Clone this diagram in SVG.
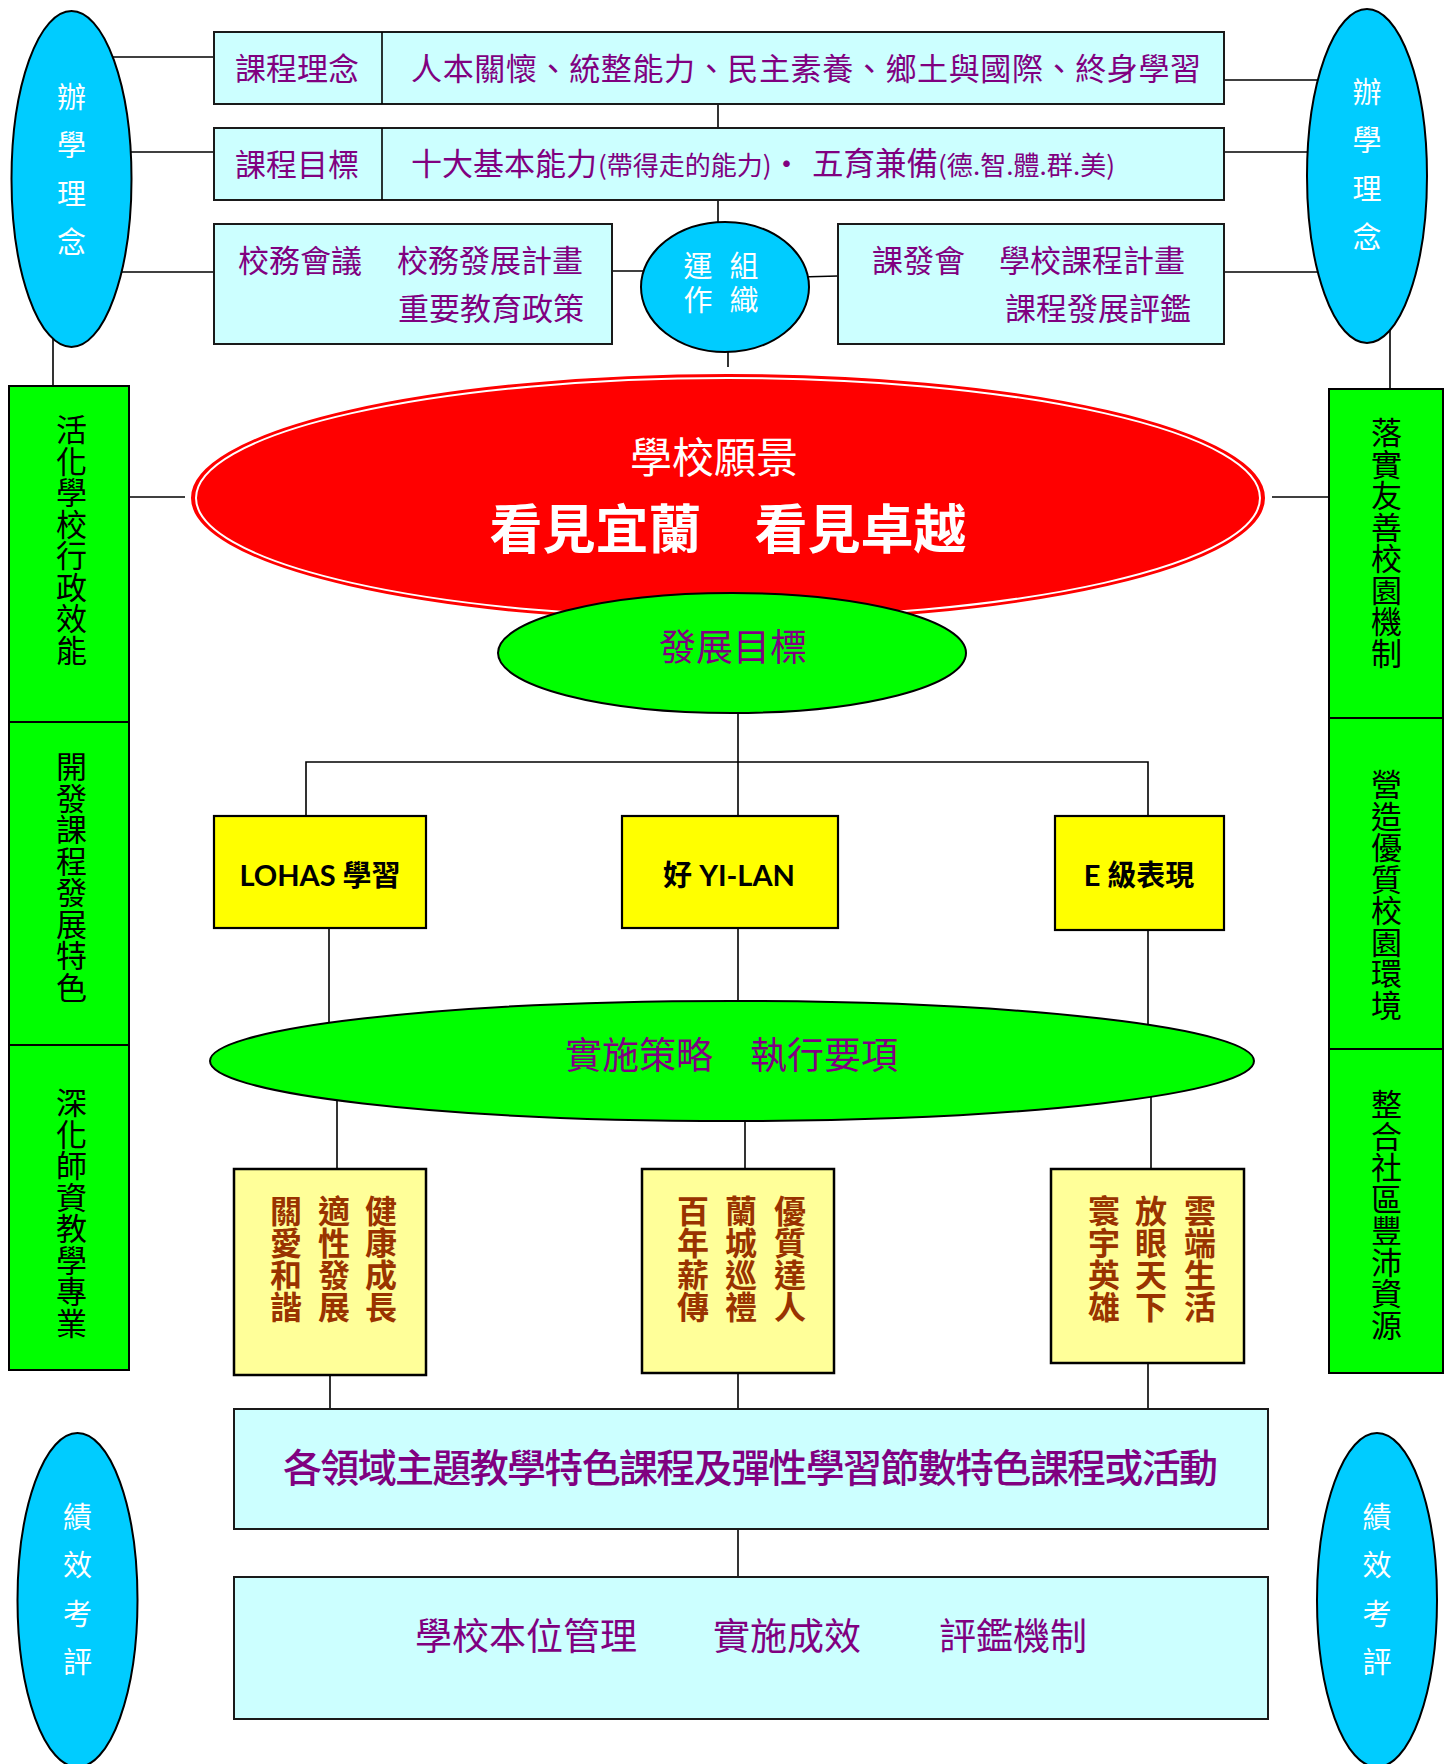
<svg xmlns="http://www.w3.org/2000/svg" width="1447" height="1764" viewBox="0 0 1447 1764">
<style>
.ln{stroke:#000;stroke-width:1.6;fill:none}
.cy{fill:#CCFFFF;stroke:#1a1a1a;stroke-width:2}
.bl{fill:#00CCFF;stroke:#000;stroke-width:2}
.gr{fill:#00FF00;stroke:#000;stroke-width:2}
.yl{fill:#FFFF00;stroke:#000;stroke-width:2.2}
.ly{fill:#FFFF99;stroke:#000;stroke-width:2.5}
text{font-family:"Noto Sans CJK TC","Noto Sans CJK SC",sans-serif}
.v{writing-mode:vertical-rl}
.pu{fill:#800080}
.wh{fill:#fff}
.bk{fill:#000}
.br{fill:#993300;font-weight:bold;font-size:32px}
.el{font-size:29px;letter-spacing:19.5px;fill:#fff}
.col{font-size:31px;letter-spacing:0.5px;fill:#000}
.lat{font-family:Lato,"Noto Sans CJK TC",sans-serif;font-weight:bold;font-size:29px;fill:#000}
</style>
<rect width="1447" height="1764" fill="#fff"/>
<g id="connectors">
<line class="ln" x1="71" y1="57" x2="214" y2="57"/>
<line class="ln" x1="71" y1="152" x2="214" y2="152"/>
<line class="ln" x1="71" y1="272" x2="214" y2="272"/>
<line class="ln" x1="1224" y1="80" x2="1367" y2="80"/>
<line class="ln" x1="1224" y1="152" x2="1367" y2="152"/>
<line class="ln" x1="1224" y1="272" x2="1367" y2="272"/>
<line class="ln" x1="718" y1="104" x2="718" y2="128"/>
<line class="ln" x1="718" y1="200" x2="718" y2="222"/>
<line class="ln" x1="612" y1="271" x2="650" y2="271"/>
<line class="ln" x1="800" y1="277" x2="838" y2="276"/>
<line class="ln" x1="728" y1="340" x2="728" y2="367"/>
<line class="ln" x1="53" y1="300" x2="53" y2="392"/>
<line class="ln" x1="1390" y1="300" x2="1390" y2="392"/>
<line class="ln" x1="129" y1="497" x2="185" y2="497"/>
<line class="ln" x1="1272" y1="497" x2="1329" y2="497"/>
<line class="ln" x1="738" y1="700" x2="738" y2="762"/>
<polyline class="ln" points="306,816 306,762 1148,762 1148,816"/>
<line class="ln" x1="738" y1="762" x2="738" y2="816"/>
<line class="ln" x1="329" y1="928" x2="329" y2="1061"/>
<line class="ln" x1="738" y1="928" x2="738" y2="1061"/>
<line class="ln" x1="1148" y1="930" x2="1148" y2="1061"/>
<line class="ln" x1="337" y1="1061" x2="337" y2="1169"/>
<line class="ln" x1="745" y1="1061" x2="745" y2="1169"/>
<line class="ln" x1="1151" y1="1061" x2="1151" y2="1169"/>
<line class="ln" x1="330" y1="1375" x2="330" y2="1409"/>
<line class="ln" x1="738" y1="1373" x2="738" y2="1409"/>
<line class="ln" x1="1148" y1="1363" x2="1148" y2="1409"/>
<line class="ln" x1="738" y1="1529" x2="738" y2="1577"/>
</g>
<g id="philosophy-left">
<ellipse class="bl" cx="71.5" cy="179" rx="60" ry="168"/>
<text class="v el" x="71.5" y="82">辦學理念</text>
</g>
<g id="philosophy-right">
<ellipse class="bl" cx="1367" cy="176" rx="60" ry="167"/>
<text class="v el" x="1367" y="77">辦學理念</text>
</g>
<g id="course-concept">
<rect class="cy" x="214" y="32" width="1010" height="72"/>
<line class="ln" x1="382" y1="32" x2="382" y2="104" stroke-width="2"/>
<text class="pu" x="235" y="80" font-size="31">課程理念</text>
<text class="pu" x="411" y="80" font-size="31" textLength="790" lengthAdjust="spacing">人本關懷、統整能力、民主素養、鄉土與國際、終身學習</text>
</g>
<g id="course-goal">
<rect class="cy" x="214" y="128" width="1010" height="72"/>
<line class="ln" x1="382" y1="128" x2="382" y2="200" stroke-width="2"/>
<text class="pu" x="235" y="176" font-size="31">課程目標</text>
<text class="pu" y="175"><tspan x="411" font-size="31">十大基本能力</tspan><tspan x="598" font-size="26">(帶得走的能力)</tspan><tspan x="771" font-size="31">・</tspan><tspan x="812" font-size="31.5">五育兼備</tspan><tspan x="938" font-size="26" textLength="177" lengthAdjust="spacing">(德.智.體.群.美)</tspan></text>
</g>
<g id="school-affairs">
<rect class="cy" x="214" y="224" width="398" height="120"/>
<text class="pu" font-size="31"><tspan x="238" y="272">校務會議</tspan><tspan x="397" y="272">校務發展計畫</tspan></text>
<text class="pu" font-size="31" x="398" y="320">重要教育政策</text>
</g>
<g id="operation">
<ellipse class="bl" cx="725" cy="287" rx="84" ry="65"/>
<text class="v wh" font-size="29" letter-spacing="5" x="698" y="251">運作</text>
<text class="v wh" font-size="29" letter-spacing="5" x="744" y="251">組織</text>
</g>
<g id="curriculum-committee">
<rect class="cy" x="838" y="224" width="386" height="120"/>
<text class="pu" font-size="31"><tspan x="872" y="272">課發會</tspan><tspan x="999" y="272">學校課程計畫</tspan></text>
<text class="pu" font-size="31" x="1005" y="320">課程發展評鑑</text>
</g>
<g id="left-column">
<rect class="gr" x="9" y="386" width="120" height="336"/>
<rect class="gr" x="9" y="722" width="120" height="323"/>
<rect class="gr" x="9" y="1045" width="120" height="325"/>
<text class="v col" x="71.5" y="414">活化學校行政效能</text>
<text class="v col" x="71.5" y="751">開發課程發展特色</text>
<text class="v col" x="71.5" y="1087">深化師資教學專業</text>
</g>
<g id="right-column">
<rect class="gr" x="1329" y="389" width="114" height="329"/>
<rect class="gr" x="1329" y="718" width="114" height="331"/>
<rect class="gr" x="1329" y="1049" width="114" height="324"/>
<text class="v col" x="1386.5" y="417">落實友善校園機制</text>
<text class="v col" x="1386.5" y="769">營造優質校園環境</text>
<text class="v col" x="1386.5" y="1089">整合社區豐沛資源</text>
</g>
<g id="vision">
<ellipse cx="728" cy="498" rx="536" ry="123" fill="#FF0000" stroke="#FF0000" stroke-width="2"/>
<ellipse cx="728" cy="498" rx="532" ry="120" fill="none" stroke="#fff" stroke-width="2"/>
<text class="wh" x="714" y="473" font-size="42" text-anchor="middle">學校願景</text>
<text class="wh" x="728" y="549" font-size="53" font-weight="bold" text-anchor="middle">看見宜蘭　看見卓越</text>
</g>
<g id="development-goal">
<ellipse class="gr" cx="732" cy="653" rx="234" ry="60"/>
<text class="pu" x="733" y="661" font-size="37" text-anchor="middle">發展目標</text>
</g>
<g id="lohas">
<rect class="yl" x="214" y="816" width="212" height="112"/>
<text class="lat" x="320" y="886" text-anchor="middle">LOHAS 學習</text>
</g>
<g id="yilan">
<rect class="yl" x="622" y="816" width="216" height="112"/>
<text class="lat" x="729" y="886" text-anchor="middle">好 YI-LAN</text>
</g>
<g id="e-level">
<rect class="yl" x="1055" y="816" width="169" height="114"/>
<text class="lat" x="1139" y="886" text-anchor="middle">E 級表現</text>
</g>
<g id="strategy">
<ellipse class="gr" cx="732" cy="1061" rx="522" ry="60"/>
<text class="pu" x="731.5" y="1069" font-size="37" text-anchor="middle">實施策略　執行要項</text>
</g>
<g id="item-health">
<rect class="ly" x="234" y="1169" width="192" height="206"/>
<text class="v br" x="381" y="1195">健康成長</text>
<text class="v br" x="334" y="1195">適性發展</text>
<text class="v br" x="286" y="1195">關愛和諧</text>
</g>
<g id="item-quality">
<rect class="ly" x="642" y="1169" width="192" height="204"/>
<text class="v br" x="790" y="1195">優質達人</text>
<text class="v br" x="741" y="1195">蘭城巡禮</text>
<text class="v br" x="693" y="1195">百年薪傳</text>
</g>
<g id="item-cloud">
<rect class="ly" x="1051" y="1169" width="193" height="194"/>
<text class="v br" x="1200" y="1195">雲端生活</text>
<text class="v br" x="1151" y="1195">放眼天下</text>
<text class="v br" x="1104" y="1195">寰宇英雄</text>
</g>
<g id="curriculum-activities">
<rect class="cy" x="234" y="1409" width="1034" height="120"/>
<text class="pu" x="283" y="1482" font-size="39" font-weight="500" textLength="935" lengthAdjust="spacing">各領域主題教學特色課程及彈性學習節數特色課程或活動</text>
</g>
<g id="management">
<rect class="cy" x="234" y="1577" width="1034" height="142"/>
<text class="pu" font-size="37" y="1650"><tspan x="415">學校本位管理</tspan><tspan x="713">實施成效</tspan><tspan x="939">評鑑機制</tspan></text>
</g>
<g id="evaluation-left">
<ellipse class="bl" cx="77.5" cy="1600" rx="60" ry="167"/>
<text class="v el" x="77.5" y="1502">績效考評</text>
</g>
<g id="evaluation-right">
<ellipse class="bl" cx="1377" cy="1600" rx="60" ry="167"/>
<text class="v el" x="1377" y="1502">績效考評</text>
</g>
</svg>
